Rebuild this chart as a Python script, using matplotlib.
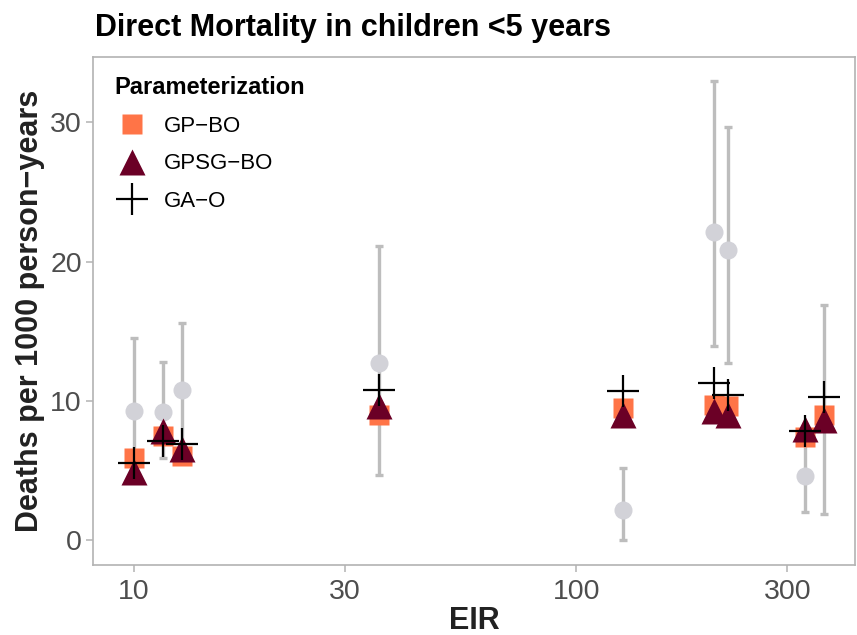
import matplotlib
matplotlib.use("Agg")
import matplotlib.pyplot as plt
from matplotlib.lines import Line2D

plt.rcParams['font.family'] = ['Liberation Sans', 'DejaVu Sans']

# Study sites (EIR) and observed direct mortality with intervals
eir = [10.0, 11.6, 12.8, 35.7, 127.6, 204.7, 220.0, 329.6, 363.0]
obs = [9.3, 9.2, 10.8, 12.7, 2.15, 22.1, 20.8, 4.6, 9.0]
obs_lo = [4.5, 5.9, 6.2, 4.7, 0.0, 13.95, 12.7, 2.0, 1.85]
obs_hi = [14.5, 12.8, 15.6, 21.1, 5.15, 33.0, 29.7, 7.5, 16.9]

# Model predictions per parameterization
gp_bo = [5.9, 7.5, 6.0, 9.0, 9.45, 9.7, 9.6, 7.4, 9.0]
gpsg_bo = [4.9, 7.8, 6.5, 9.6, 9.0, 9.3, 9.0, 8.0, 8.6]
ga_o = [5.5, 7.1, 6.9, 10.8, 10.7, 11.25, 10.4, 7.85, 10.25]

x_ticks = [10, 30, 100, 300]
y_ticks = [0, 10, 20, 30]

c_gp = '#FF7447'
c_gpsg = '#6B0026'
c_obs = '#D2D2D8'
c_bar = '#BDBDBD'
c_tick = '#4D4D4D'
c_frame = '#B3B3B3'

fig = plt.figure(figsize=(8.57, 6.35), dpi=100)
ax = fig.add_axes([93 / 857, 70 / 635, 762 / 857, 508 / 635])

ax.set_xscale('log')
ax.set_xlim(8.07, 427)
ax.set_ylim(-1.8, 34.7)

yerr = [[o - lo for o, lo in zip(obs, obs_lo)], [hi - o for o, hi in zip(obs, obs_hi)]]
ax.errorbar(eir, obs, yerr=yerr, fmt='none', ecolor=c_bar, elinewidth=2.4,
            capsize=3.2, capthick=2.4, zorder=1)
ax.plot(eir, obs, 'o', ms=13, color=c_obs, mec='none', zorder=2)
ax.plot(eir, gp_bo, 's', ms=15, color=c_gp, mec='none', zorder=3)
ax.plot(eir, gpsg_bo, '^', ms=19, color=c_gpsg, mec='none', zorder=4)
ax.plot(eir, ga_o, '+', ms=23, color='black', mew=1.6, zorder=5)

ax.set_xticks(x_ticks)
ax.set_xticklabels([str(t) for t in x_ticks])
ax.xaxis.set_minor_locator(matplotlib.ticker.NullLocator())
ax.set_yticks(y_ticks)
ax.tick_params(axis='both', labelsize=20.5, colors=c_tick, length=5, width=1.1,
               color=c_frame, pad=3)
ax.tick_params(axis='x', pad=5)
for s in ax.spines.values():
    s.set_color(c_frame)
    s.set_linewidth(1.2)

ax.set_xlabel('EIR', fontsize=22, fontweight='bold', color='#222222', labelpad=1)
ax.set_ylabel('Deaths per 1000 person\u2212years', fontsize=22, fontweight='bold',
              color='#222222', labelpad=4)
fig.text(95 / 857, 1 - 28 / 635, 'Direct Mortality in children <5 years',
         fontsize=22, fontweight='bold', color='black', va='center', ha='left')

handles = [
    Line2D([], [], ls='none', marker='s', ms=15, color=c_gp, mec='none'),
    Line2D([], [], ls='none', marker='^', ms=19, color=c_gpsg, mec='none'),
    Line2D([], [], ls='none', marker='+', ms=23, color='black', mew=1.6),
]
labels = ['GP\u2212BO', 'GPSG\u2212BO', 'GA\u2212O']
leg = ax.legend(handles, labels, title='Parameterization', loc='upper left',
                bbox_to_anchor=(0.008, 0.993), frameon=False, fontsize=16,
                title_fontproperties={'weight': 'bold', 'size': 17},
                labelspacing=0.75, handletextpad=0.6, handlelength=1.6,
                borderaxespad=0.3)
leg._legend_box.align = 'left'

fig.savefig('out.png', dpi=100)
